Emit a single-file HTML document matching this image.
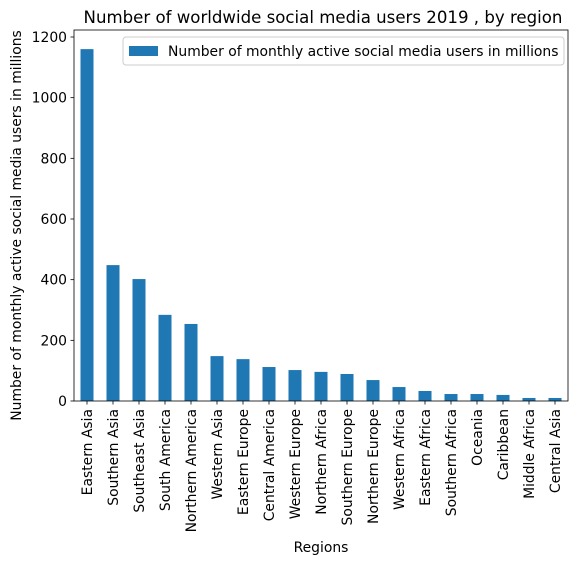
<!DOCTYPE html>
<html><head><meta charset="utf-8"><style>
body{margin:0;background:#fff;font-family:"Liberation Sans","DejaVu Sans",sans-serif;}
svg text{font-family:"DejaVu Sans","Liberation Sans",sans-serif;fill:#000}
</style></head><body>
<svg id="c" width="580" height="564" xmlns="http://www.w3.org/2000/svg"></svg>
<script>
const categories=["Eastern Asia","Southern Asia","Southeast Asia","South America","Northern America","Western Asia","Eastern Europe","Central America","Western Europe","Northern Africa","Southern Europe","Northern Europe","Western Africa","Eastern Africa","Southern Africa","Oceania","Caribbean","Middle Africa","Central Asia"];
const values=[1160,448,402,284,254,148,138,112,102,96,89,69,46,33,23,23,20,10,10];
const yTicks=[0,200,400,600,800,1000,1200];
const svg=document.getElementById('c');
const NS='http://www.w3.org/2000/svg';
const L=74,R=568,T=30,B=401;
const n=categories.length;
const xs=i=>L+(i+0.5)*(R-L)/n;
const ys=v=>B-v*(364/1200);
const FS=13.9;
function mk(t,a,txt){const e=document.createElementNS(NS,t);for(const k in a)e.setAttribute(k,a[k]);if(txt!==undefined)e.textContent=txt;svg.appendChild(e);return e;}
const bw=(R-L)/n*0.5;
values.forEach((v,i)=>{
 const r=mk('rect',{x:xs(i)-bw/2,y:ys(v),width:bw,height:B-ys(v),fill:'#1f77b4'});
 
 
});
const f=mk('rect',{x:L,y:T,width:R-L,height:B-T,fill:'none',stroke:'#000','stroke-width':0.8});


yTicks.forEach(t=>{
 mk('line',{x1:L-3.5,x2:L,y1:ys(t),y2:ys(t),stroke:'#000','stroke-width':0.8});
 const e=mk('text',{x:L-7,y:ys(t)+5,'text-anchor':'end','font-size':FS},t);
 
 
});
categories.forEach((c,i)=>{
 mk('line',{x1:xs(i),x2:xs(i),y1:B,y2:B+3.5,stroke:'#000','stroke-width':0.8});
 const e=mk('text',{x:0,y:0,'text-anchor':'end','font-size':FS,transform:`translate(${xs(i)+5},${B+8}) rotate(-90)`},c);
 
 
});
let e=mk('text',{x:(L+R)/2,y:552,'text-anchor':'middle','font-size':FS},'Regions');

e=mk('text',{x:0,y:0,'text-anchor':'middle','font-size':FS,transform:`translate(21,${(T+B)/2+10}) rotate(-90)`},'Number of monthly active social media users in millions');

e=mk('text',{x:(L+R)/2+2,y:23,'text-anchor':'middle','font-size':16.6},'Number of worldwide social media users 2019 , by region');

const lg=mk('rect',{x:123,y:37,width:441,height:28,rx:3,fill:'#fff',stroke:'#ccc','stroke-width':1});

mk('rect',{x:129,y:46,width:29,height:10,fill:'#1f77b4'});
e=mk('text',{x:168,y:56,'font-size':FS},'Number of monthly active social media users in millions');

</script>
</body></html>
